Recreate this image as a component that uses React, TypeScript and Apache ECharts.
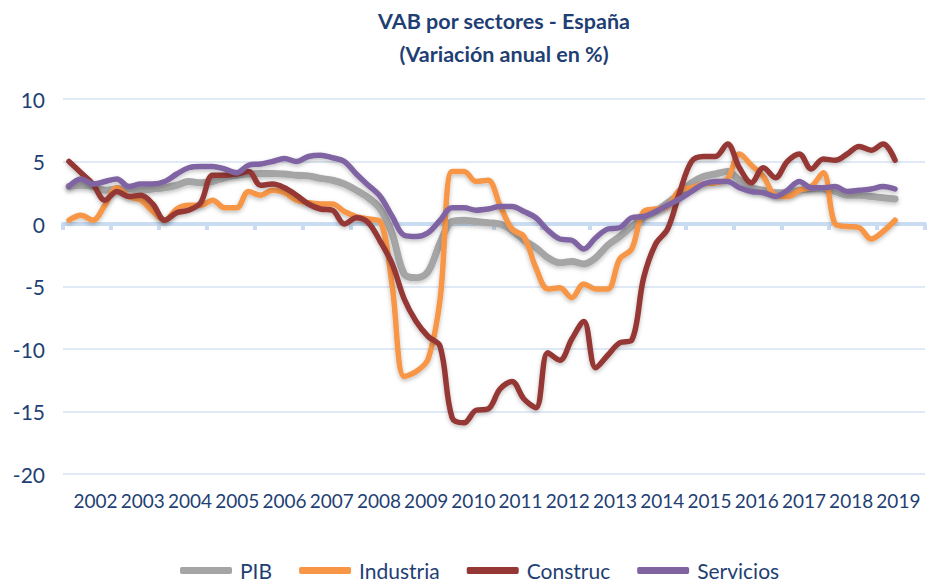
import React, { useEffect, useRef } from "react";
import * as echarts from "echarts";

const years = ["2002", "2003", "2004", "2005", "2006", "2007", "2008", "2009", "2010", "2011", "2012", "2013", "2014", "2015", "2016", "2017", "2018", "2019"];
const quarterNames = ["T1", "T2", "T3", "T4"];
const categories = years.flatMap((y) => quarterNames.map((q) => `${y} ${q}`));

const pib = [
  3.0, 3.1, 3.0, 2.7, 2.8, 2.8, 2.7, 2.8, 2.9, 3.1,
  3.4, 3.3, 3.4, 3.7, 3.9, 4.0, 4.05, 4.05, 4.0, 3.9,
  3.85, 3.65, 3.5, 3.2, 2.7, 2.1, 1.2, -0.8, -4.0, -4.3,
  -3.8, -1.5, 0.2, 0.3, 0.2, 0.1, 0.0, -0.5, -1.3, -1.9,
  -2.7, -3.1, -3.0, -3.2, -2.7, -1.7, -1.0, -0.2, 0.5, 1.0,
  1.7, 2.4, 3.3, 3.8, 4.0, 4.2, 3.5, 2.9, 2.7, 2.5,
  2.5, 2.7, 2.8, 2.8, 2.6, 2.3, 2.3, 2.2, 2.1, 2.0,
];
const industria = [
  0.3, 0.7, 0.3, 1.5, 2.9, 2.2, 1.9, 1.0, 0.3, 1.2,
  1.5, 1.5, 1.9, 1.3, 1.3, 2.6, 2.3, 2.7, 2.5, 1.9,
  1.7, 1.6, 1.6, 1.0, 0.6, 0.4, 0.2, -5.0, -12.2, -11.8,
  -10.8, -6.0, 4.2, 4.2, 3.4, 3.5, 1.5, -0.4, -1.0, -3.5,
  -5.2, -5.1, -5.9, -4.8, -5.2, -5.2, -2.8, -2.0, 1.0, 1.2,
  1.4, 2.7, 2.9, 3.2, 3.3, 3.6, 5.6, 4.7, 3.8, 2.3,
  2.2, 2.7, 3.0, 4.1, 0.0, -0.2, -0.3, -1.2, -0.6, 0.3,
];
const construc = [
  5.0, 4.1, 3.2, 1.9, 2.6, 2.2, 2.3, 1.6, 0.3, 0.9,
  1.1, 1.7, 3.9, 3.9, 4.0, 4.2, 3.1, 3.2, 2.9, 2.3,
  1.6, 1.2, 1.1, 0.0, 0.5, 0.1, -1.4, -3.2, -6.0, -7.8,
  -9.0, -9.8, -15.5, -15.9, -14.9, -14.8, -13.2, -12.6, -14.0, -14.7,
  -10.3, -10.9, -9.2, -7.8, -11.5, -10.5, -9.5, -9.3, -4.3, -1.6,
  -0.4, 2.5, 5.0, 5.4, 5.4, 6.4, 4.5, 3.3, 4.5, 3.7,
  5.0, 5.6, 4.4, 5.2, 5.1, 5.6, 6.2, 5.9, 6.4, 5.1,
];
const servicios = [
  3.0, 3.6, 3.2, 3.4, 3.6, 3.0, 3.2, 3.2, 3.4, 4.0,
  4.5, 4.6, 4.6, 4.4, 4.1, 4.7, 4.8, 5.0, 5.25, 5.0,
  5.4, 5.5, 5.3, 5.0, 4.0, 3.1, 2.2, 0.6, -0.9, -1.0,
  -0.7, 0.3, 1.3, 1.3, 1.1, 1.2, 1.4, 1.4, 1.0, 0.5,
  -0.5, -1.2, -1.3, -2.0, -1.1, -0.4, -0.3, 0.5, 0.6, 1.0,
  1.5, 2.0, 2.6, 3.2, 3.4, 3.4, 2.9, 2.6, 2.5, 2.2,
  2.7, 3.4, 2.9, 2.9, 3.0, 2.6, 2.7, 2.8, 3.0, 2.8,
];

const seriesNames = ["PIB", "Industria", "Construc", "Servicios"];
const seriesColors = ["#a5a5a5", "#f79646", "#953735", "#8064a2"];
const seriesData = [pib, industria, construc, servicios];

const titleLines = ["VAB por sectores - España", "(Variación anual en %)"];
const yMin = -20;
const yMax = 10;
const yStep = 5;

const textColor = "#1f3f74";
const gridColor = "#d6e3f3";

export default function App() {
  const ref = useRef<HTMLDivElement>(null);
  useEffect(() => {
    if (!ref.current) return;
    const chart = echarts.init(ref.current, null, { renderer: "svg" });
    chart.setOption({
      animation: false,
      backgroundColor: "#ffffff",
      title: {
        text: titleLines.join("\n"),
        left: 499,
        top: -1,
        textAlign: "center",
        textStyle: {
          fontFamily: "Lato",
          fontWeight: "bold",
          fontSize: 21.5,
          lineHeight: 33,
          color: textColor,
        },
      },
      legend: {
        data: seriesNames,
        left: 180,
        top: 560,
        icon: "roundRect",
        itemWidth: 52,
        itemHeight: 7,
        itemGap: 27,
        padding: 0,
        textStyle: { fontFamily: "Lato", fontSize: 21, lineHeight: 21, color: textColor, padding: [0, 0, 0, 3] },
      },
      grid: [
        { left: 63, right: 4, top: 99, bottom: 108 },
        { left: 72, right: 7, top: 99, bottom: 108 },
      ],
      xAxis: [
        {
          type: "category",
          gridIndex: 0,
          data: categories,
          boundaryGap: true,
          axisLine: { show: true, onZero: true, lineStyle: { color: "#c9dcf2", width: 4 } },
          axisTick: { show: true, interval: 3, length: 6, lineStyle: { color: "#c9dcf2", width: 4 } },
          axisLabel: { show: false },
          splitLine: { show: false },
        },
        {
          type: "category",
          gridIndex: 1,
          data: years,
          boundaryGap: true,
          axisLine: { show: false, onZero: false },
          axisTick: { show: false },
          axisLabel: { show: true, interval: 0, margin: 17, fontFamily: "Lato", fontSize: 19, color: textColor },
          splitLine: { show: false },
        },
      ],
      yAxis: [
        {
          type: "value",
          gridIndex: 0,
          min: yMin,
          max: yMax,
          interval: yStep,
          axisLine: { show: false },
          axisTick: { show: false },
          axisLabel: { margin: 18, fontFamily: "Lato", fontSize: 21, color: textColor },
          splitLine: { show: true, lineStyle: { color: gridColor, width: 1.5 } },
        },
        { type: "value", gridIndex: 1, min: 0, max: 1, show: false },
      ],
      series: seriesNames.map((name, k) => ({
        name,
        type: "line",
        xAxisIndex: 0,
        yAxisIndex: 0,
        data: seriesData[k],
        smooth: 0.35,
        showSymbol: false,
        symbol: "none",
        color: seriesColors[k],
        lineStyle: {
          width: k === 0 ? 7 : 5.5,
          color: seriesColors[k],
          cap: "round",
          join: "round",
          shadowColor: "rgba(0,0,0,0.25)",
          shadowBlur: 4,
          shadowOffsetY: 2,
        },
      })),
    });
    return () => chart.dispose();
  }, []);
  return (
    <div
      ref={ref}
      style={{ position: "absolute", left: 0, top: 0, width: 929, height: 582, background: "#ffffff" }}
    />
  );
}
